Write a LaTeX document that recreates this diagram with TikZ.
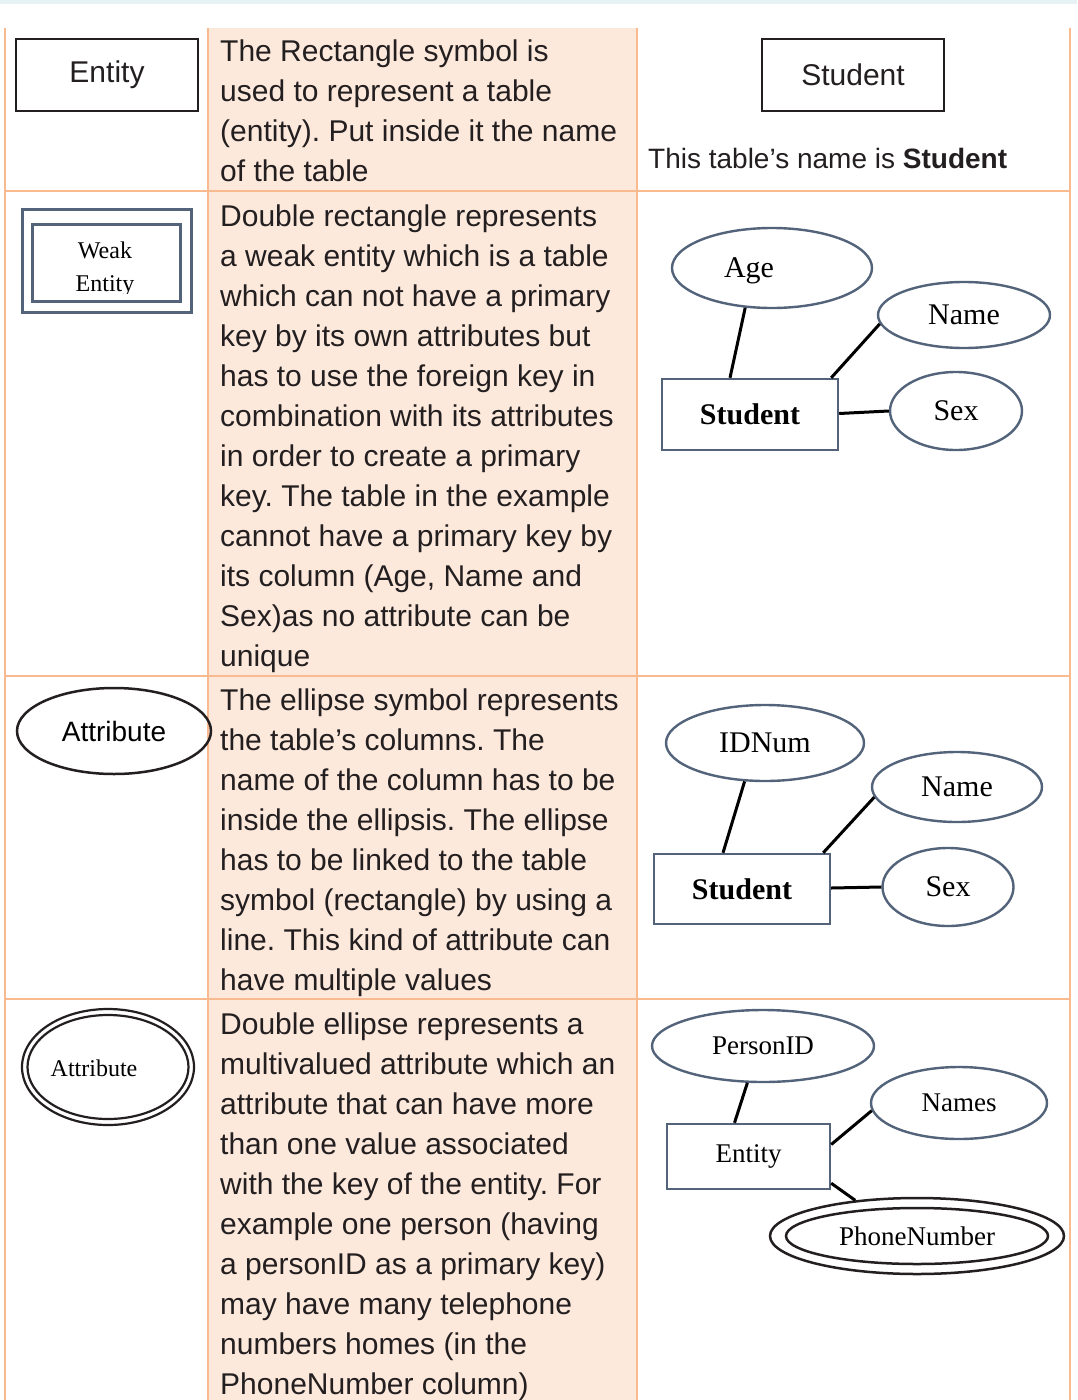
\documentclass[tikz,border=0pt]{standalone}
\usepackage{fontspec}
\setmainfont{Liberation Serif}
\setsansfont{Liberation Sans}
\usetikzlibrary{shapes.geometric}
\definecolor{gridc}{HTML}{F8BA8E}
\definecolor{peach}{HTML}{FDE9DC}
\definecolor{slate}{HTML}{52637A}
\definecolor{ink}{HTML}{231F20}
\definecolor{topband}{HTML}{E6F2F4}
\frenchspacing
\begin{document}
\begin{tikzpicture}[x=1pt,y=-1pt,
  gridl/.style={draw=gridc, line width=2pt},
  desc/.style={anchor=north west, inner sep=0pt, align=left, text=ink,
    font=\sffamily\fontsize{30}{40}\selectfont},
  sanslbl/.style={font=\sffamily\fontsize{30}{36}\selectfont, text=ink},
  serlbl/.style={font=\rmfamily\fontsize{30}{36}\selectfont, text=black},
  serlbls/.style={font=\rmfamily\fontsize{27}{32}\selectfont, text=black},
  ell/.style={ellipse, draw=slate, line width=2.4pt, inner sep=0pt},
  box/.style={rectangle, draw=slate, line width=2.4pt, inner sep=0pt},
  blkbox/.style={rectangle, draw=ink, line width=2.5pt, inner sep=0pt},
  blkell/.style={ellipse, draw=ink, line width=2.2pt, inner sep=0pt},
  link/.style={draw=black, line width=3pt}]
\useasboundingbox (0,0) rectangle (1077,1400);
\fill[white] (0,0) rectangle (1077,1400);
\fill[topband] (0,0) rectangle (1077,4);
% table
\fill[peach] (208,28) rectangle (637,1400);
\draw[gridl] (5,28) -- (5,1400);
\draw[gridl] (208,28) -- (208,1400);
\draw[gridl] (637,28) -- (637,1400);
\draw[gridl] (1070,28) -- (1070,1400);
\draw[gridl] (5,191) -- (1070,191);
\draw[gridl] (5,676) -- (1070,676);
\draw[gridl] (5,999) -- (1070,999);

% descriptions
\node[desc] (d1) at (220,33) {\strut The Rectangle symbol is\\used to represent a table\\(entity). Put inside it the name\\of the table};
\node[desc] (d2) at (220,198) {\strut Double rectangle represents\\a weak entity which is a table\\which can not have a primary\\key by its own attributes but\\has to use the foreign key in\\combination with its attributes\\in order to create a primary\\key. The table in the example\\cannot have a primary key by\\its column (Age, Name and\\Sex)as no attribute can be\\unique};
\node[desc] (d3) at (220,682) {\strut The ellipse symbol represents\\the table’s columns. The\\name of the column has to be\\inside the ellipsis. The ellipse\\has to be linked to the table\\symbol (rectangle) by using a\\line. This kind of attribute can\\have multiple values};
\node[desc] (d4) at (220,1006) {\strut Double ellipse represents a\\multivalued attribute which an\\attribute that can have more\\than one value associated\\with the key of the entity. For\\example one person (having\\a personID as a primary key)\\may have many telephone\\numbers homes (in the\\PhoneNumber column)};

% column 1 symbols
\node[blkbox, minimum width=182pt, minimum height=72pt, sanslbl] (ent) at (107,75) {Entity};
\node[box, line width=3pt, minimum width=169pt, minimum height=103pt] (wkout) at (106.5,260.5) {};
\node[box, line width=3pt, minimum width=148pt, minimum height=77pt] (wkin) at (106,262.5) {};
\begin{scope}
\clip (34,226) rectangle (178,293);
\node[anchor=base, inner sep=0pt, font=\rmfamily\fontsize{24}{30}\selectfont] (wk1) at (105,258) {Weak};
\node[anchor=base, inner sep=0pt, font=\rmfamily\fontsize{24}{30}\selectfont] (wk2) at (105,291) {Entity};
\end{scope}
\node[blkell, line width=2.5pt, minimum width=194pt, minimum height=86pt, font=\sffamily\fontsize{28}{34}\selectfont] (att) at (114,731) {Attribute};
\node[blkell, minimum width=172pt, minimum height=116pt] (matt) at (108,1067) {};
\node[blkell, minimum width=161pt, minimum height=104pt] (mattin) at (108,1067) {};
\node[font=\rmfamily\fontsize{24}{30}\selectfont, inner sep=0pt] (matttxt) at (94,1068) {Attribute};

% column 3, row 1
\node[blkbox, minimum width=182pt, minimum height=72pt, sanslbl] (stu0) at (853,75) {Student};
\node[anchor=base west, inner sep=0pt, font=\sffamily\fontsize{28}{34}\selectfont, text=ink] (cap) at (648,168) {This table’s name is \textbf{Student}};

% column 3, row 2
\node[ell, minimum width=200pt, minimum height=80pt] (age) at (772,268) {};
\node[serlbl, inner sep=0pt] (agetxt) at (749,271) {Age};
\node[ell, minimum width=172pt, minimum height=66pt, serlbl] (name) at (964,315) {Name};
\node[ell, minimum width=132pt, minimum height=78pt, serlbl] (sex) at (956,411) {Sex};
\node[box, minimum width=176pt, minimum height=71pt, font=\rmfamily\bfseries\fontsize{30}{36}\selectfont] (stu) at (750,414.5) {Student};
\draw[link] (age.236) -- ([xshift=-20pt]stu.north);
\draw[link] (name.186) -- ([xshift=-8pt]stu.north east);
\draw[link] (sex.west) -- ([yshift=1pt]stu.east);

% column 3, row 3
\node[ell, minimum width=198pt, minimum height=76pt, serlbl] (idn) at (765,743) {IDNum};
\node[ell, minimum width=170pt, minimum height=70pt, serlbl] (name2) at (957,787) {Name};
\node[ell, minimum width=131pt, minimum height=78pt, serlbl] (sex2) at (948,887) {Sex};
\node[box, minimum width=176pt, minimum height=70pt, font=\rmfamily\bfseries\fontsize{30}{36}\selectfont] (stu2) at (742,889) {Student};
\draw[link] (idn.242) -- ([xshift=-19pt]stu2.north);
\draw[link] (name2.187) -- ([xshift=-8pt]stu2.north east);
\draw[link] (sex2.west) -- ([yshift=1pt]stu2.east);

% column 3, row 4
\node[ell, minimum width=222pt, minimum height=72pt, serlbls] (pid) at (763,1046) {PersonID};
\node[ell, minimum width=176pt, minimum height=72pt, serlbls] (names) at (959,1103) {Names};
\node[box, minimum width=163pt, minimum height=65pt, serlbls] (ent2) at (748.5,1156.5) {Entity};
\node[blkell, line width=2.5pt, minimum width=294pt, minimum height=76pt] (pn) at (917,1236) {};
\node[blkell, line width=2.5pt, minimum width=262pt, minimum height=56pt, serlbls] (pnin) at (917,1236) {PhoneNumber};
\draw[link] (pid.247) -- ([xshift=-14pt]ent2.north);
\draw[link] (names.185) -- ([yshift=12pt]ent2.east);
\draw[link] ([yshift=7pt]ent2.south east) -- (pn.150);
\end{tikzpicture}
\end{document}
